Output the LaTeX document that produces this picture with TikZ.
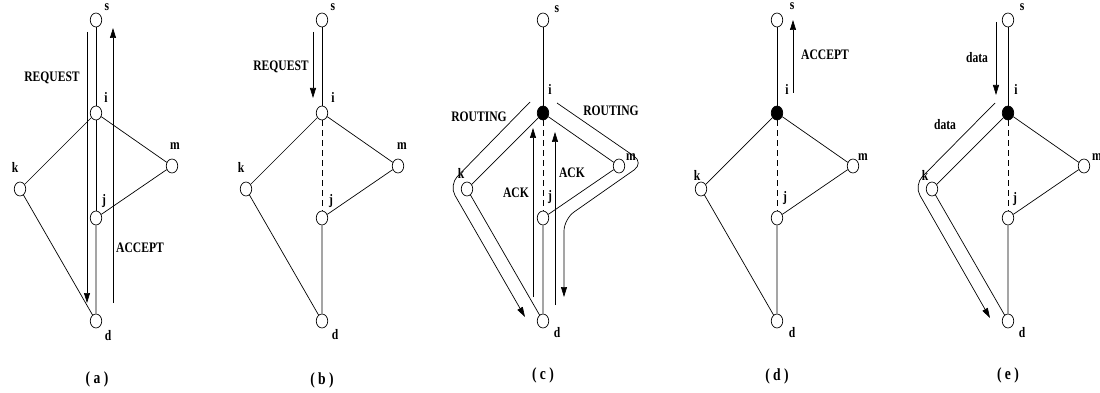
\documentclass[tikz,border=0pt]{standalone}
\usepackage{fontspec}
\setmainfont{Liberation Serif}
\usetikzlibrary{shapes.geometric,arrows.meta}

\tikzset{
  nd/.style={draw, ellipse, minimum width=11.5pt, minimum height=14pt, inner sep=0pt, fill=white},
  hot/.style={nd, fill=black},
  lbl/.style={font=\bfseries\fontsize{14.5}{15}\selectfont, xscale=0.8, transform shape, inner sep=0pt},
  captxt/.style={lbl, font=\bfseries\fontsize{17}{18}\selectfont},
  cut/.style={dash pattern=on 6pt off 4pt},
  arr/.style={-{Triangle[length=10pt,width=6pt]}},
  route/.style={arr, rounded corners=12pt},
}

% the network s,i,k,m,j,d; #1 tag, #2 style of i, #3 style of i--j
\newcommand{\drawnet}[3]{%
  \node[nd] (s#1) at (0,20) {};
  \node[#2] (i#1) at (0,113) {};
  \node[nd] (m#1) at (76,166) {};
  \node[nd] (k#1) at (-76,189) {};
  \node[nd] (j#1) at (0,218) {};
  \node[nd] (d#1) at (0,321) {};
  \draw (s#1) -- (i#1);
  \draw (i#1) -- (k#1) -- (d#1);
  \draw (i#1) -- (m#1) -- (j#1) -- (d#1);
  \draw[#3] (i#1) -- (j#1);
}

\begin{document}
\begin{tikzpicture}[x=1pt, y=-1pt, line width=0.7pt]
	\useasboundingbox (0,0) rectangle (1100,393);

	% (a)
	\begin{scope}[shift={(96,0)}]
		\drawnet{a}{nd}{solid}
		\foreach \t/\px/\py in {s/11/7, i/10/97, m/79/146, k/-81/167, j/8/201, d/12/336}
			\node[lbl] at (\px,\py) {\t};
		\draw[arr] (-9,32) -- (-9,303);
		\draw[arr] (17,303) -- (17,28);
		\node[lbl] at (-44,78) {REQUEST};
		\node[lbl] at (44,248) {ACCEPT};
		\node[captxt] at (1,379) {( a )};
	\end{scope}

	% (b)
	\begin{scope}[shift={(322,0)}]
		\drawnet{b}{nd}{cut}
		\foreach \t/\px/\py in {s/11/7, i/11/97, m/80/146, k/-81/167, j/9/201, d/13/335}
			\node[lbl] at (\px,\py) {\t};
		\draw[arr] (-9,32) -- (-9,98);
		\node[lbl] at (-41,67) {REQUEST};
		\node[captxt] at (0,380) {( b )};
	\end{scope}

	% (c)
	\begin{scope}[shift={(543,0)}]
		\drawnet{c}{hot}{cut}
		\foreach \t/\px/\py in {s/14/9, i/7/89, m/88/157, k/-82/173, j/7/197, d/14/333}
			\node[lbl] at (\px,\py) {\t};
		\draw[route] (-13,102) -- (-94,185) -- (-18,317);
		\draw[route] (14,103) -- (101,163) -- (21,219) -- (21,297);
		\draw[arr] (-10,297) -- (-10,128);
		\draw[arr] (12,305) -- (12,132);
		\node[lbl] at (-64,117) {ROUTING};
		\node[lbl] at (68,111) {ROUTING};
		\node[lbl] at (-27,193) {ACK};
		\node[lbl] at (29,173) {ACK};
		\node[captxt] at (0,375) {( c )};
	\end{scope}

	% (d)
	\begin{scope}[shift={(777,0)}]
		\drawnet{d}{hot}{cut}
		\foreach \t/\px/\py in {s/15/6, i/10/89, m/86/157, k/-80/175, j/8/198, d/15/333}
			\node[lbl] at (\px,\py) {\t};
		\draw[arr] (16,93) -- (16,20);
		\node[lbl] at (48,55) {ACCEPT};
		\node[captxt] at (0,376) {( d )};
	\end{scope}

	% (e)
	\begin{scope}[shift={(1008,0)}]
		\drawnet{e}{hot}{cut}
		\foreach \t/\px/\py in {s/14/7, i/8/89, m/89/157, k/-83/175, j/7/199, d/14/333}
			\node[lbl] at (\px,\py) {\t};
		\draw[arr] (-12,22) -- (-12,95);
		\draw[route] (-13,103) -- (-94,185) -- (-18,318);
		\node[lbl] at (-31,58) {data};
		\node[lbl] at (-63,125) {data};
		\node[captxt] at (0,375) {( e )};
	\end{scope}
\end{tikzpicture}
\end{document}
